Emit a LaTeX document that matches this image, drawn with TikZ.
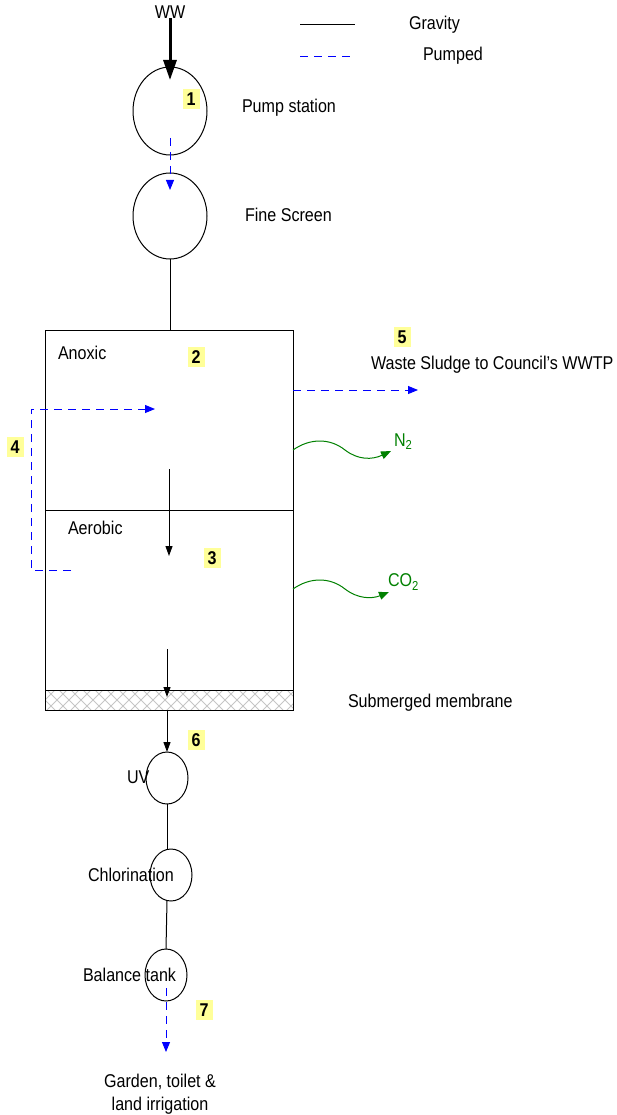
\documentclass[tikz,border=0pt]{standalone}
\usepackage{fontspec}
\setmainfont{Liberation Sans}[FakeStretch=0.87]
\usetikzlibrary{shapes.geometric,arrows.meta}
\definecolor{pumpblue}{RGB}{0,0,255}
\definecolor{gasgreen}{RGB}{0,128,0}
\definecolor{numbg}{RGB}{255,255,153}
\begin{document}
\begin{tikzpicture}[x=1pt,y=-1pt,
  every node/.style={font=\fontsize{18.5}{22}\selectfont, inner sep=0pt, outer sep=0pt},
  ell/.style={ellipse, draw, line width=1pt},
  tank/.style={rectangle, draw, line width=1pt},
  num/.style={fill=numbg, font=\fontsize{18.5}{22}\selectfont\bfseries, minimum width=17pt, minimum height=20pt},
  grav/.style={draw, line width=1pt, -{Triangle[length=10pt,width=7pt]}},
  gravline/.style={draw, line width=1pt},
  pumped/.style={color=pumpblue, line width=1pt, dash pattern=on 8pt off 6pt, -{Triangle[length=10pt,width=8pt]}},
  pumpedline/.style={color=pumpblue, line width=1pt, dash pattern=on 8pt off 6pt},
  gas/.style={color=gasgreen, line width=1pt, -{Triangle[length=10pt,width=8pt]}},
  lbl/.style={anchor=west},
]
\useasboundingbox (0,0) rectangle (616,1115);

% legend
\coordinate (lg1) at (300,25);
\coordinate (lg2) at (355,25);
\coordinate (lp1) at (300,57);
\coordinate (lp2) at (355,57);
\draw[gravline] (lg1) -- (lg2);
\draw[pumpedline] (lp1) -- (lp2);
\node[lbl] (tgrav) at (409,25) {Gravity};
\node[lbl] (tpump) at (423,56) {Pumped};

% units
\node (ww) at (170,12) {WW};
\node[ell, minimum width=74pt, minimum height=88pt] (pump) at (170,111) {};
\node[ell, minimum width=74pt, minimum height=86pt] (fine) at (170,216) {};
\node[num] (n1) at (191,99) {1};
\node[lbl] (tpumpst) at (242,108) {Pump station};
\node[lbl] (tfine) at (245,215) {Fine Screen};

\node[tank, minimum width=248pt, minimum height=180pt] (anox) at (169,420) {};
\node[tank, minimum width=248pt, minimum height=180pt] (aero) at (169,600) {};
% membrane
\begin{scope}
\clip (45,690) rectangle (293,710);
\foreach \k in {-1,0,...,22}{
  \draw[gray!45, line width=0.8pt] ({45+12*\k-10},690) -- ({45+12*\k+10},710);
  \draw[gray!45, line width=0.8pt] ({45+12*\k+10},690) -- ({45+12*\k-10},710);
}
\end{scope}
\node[tank, minimum width=248pt, minimum height=20pt] (mem) at (169,700) {};

\node[lbl] (tanox) at (58,353) {Anoxic};
\node[lbl] (taero) at (68,528) {Aerobic};
\node[num] (n2) at (196,357) {2};
\node[num] (n3) at (212,558) {3};
\node[num] (n4) at (15,447) {4};
\node[num] (n5) at (402,337) {5};
\node[lbl] (twaste) at (371,365) {Waste Sludge to Council’s WWTP};
\node[lbl, text=gasgreen] (tn2) at (394,442) {N\textsubscript{2}};
\node[lbl, text=gasgreen] (tco2) at (388,582) {CO\textsubscript{2}};
\node[lbl] (tmem) at (348,703) {Submerged membrane};

\node[ell, minimum width=42pt, minimum height=52pt] (uv) at (167,778) {};
\node[ell, minimum width=42pt, minimum height=52pt] (chl) at (171,875) {};
\node[ell, minimum width=42pt, minimum height=52pt] (bal) at (166,975) {};
\node[num] (n6) at (196,740) {6};
\node[num] (n7) at (204,1010) {7};
\node[lbl] (tuv) at (127,777) {UV};
\node[lbl] (tchl) at (88,875) {Chlorination};
\node[lbl] (tbal) at (83,975) {Balance tank};
\node[align=center, font=\fontsize{18.5}{23}\selectfont] (garden) at (160,1094) {Garden, toilet \&\\land irrigation};

% connectors
\coordinate (wwend) at (170,80);
\draw[line width=3pt, -{Triangle[length=20pt,width=13pt]}] (ww) -- (wwend);
\coordinate (p1s) at (170,138);
\coordinate (p1e) at (170,190);
\draw[pumped] (p1s) -- (p1e);
\draw[gravline] (fine.south) -- (fine.south |- anox.north);
\coordinate (a1s) at (169,469);
\coordinate (a1e) at (169,556);
\draw[grav] (a1s) -- (a1e);
\coordinate (a2s) at (167,649);
\coordinate (a2e) at (167,697);
\draw[grav] (a2s) -- (a2e);
\draw[grav] (mem.south -| uv.north) -- (uv.north);
\draw[gravline] (uv.south) -- (uv.south |- chl.north);
\draw[gravline] (uv.south |- chl.south) -- (bal.north);
\coordinate (b1s) at (166,988);
\coordinate (b1e) at (166,1052);
\draw[pumped] (b1s) -- (b1e);

% return (4)
\coordinate (r1) at (71,570);
\coordinate (r2) at (31,570);
\coordinate (r3) at (31,409);
\coordinate (r4) at (155,409);
\draw[pumped] (r1) -- (r2) -- (r3) -- (r4);

% waste sludge (5)
\coordinate (w1) at (293,390);
\coordinate (w2) at (418,390);
\draw[pumped] (w1) -- (w2);

% gases
\coordinate (g1) at (293,450);
\coordinate (g1e) at (391,451);
\draw[gas] (g1) .. controls (310,438) and (330,438) .. (345,450) .. controls (358,460) and (372,460) .. (g1e);
\coordinate (g2) at (293,589);
\coordinate (g2e) at (389,592);
\draw[gas] (g2) .. controls (310,577) and (330,577) .. (345,589) .. controls (358,599) and (372,599) .. (g2e);
\end{tikzpicture}
\end{document}
